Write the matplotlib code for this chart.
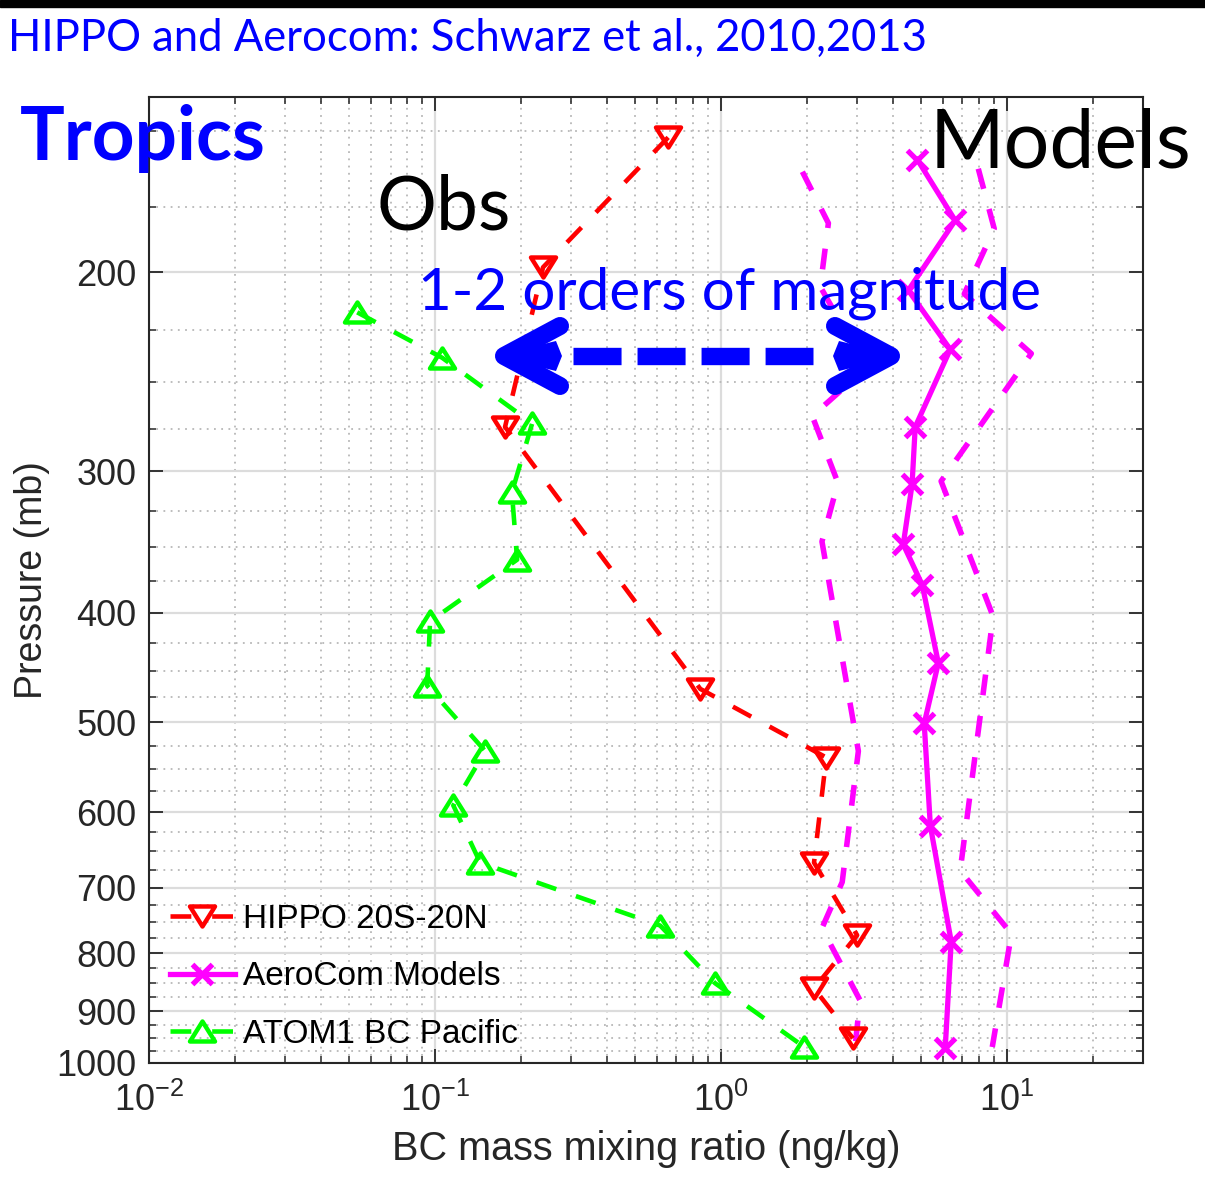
import matplotlib
matplotlib.use("Agg")
import matplotlib.pyplot as plt
from matplotlib.patches import Rectangle, Polygon
from matplotlib.path import Path
from matplotlib.ticker import FixedLocator, LogLocator, NullFormatter, FixedFormatter

# ---- data -------------------------------------------------------------
# HIPPO 20S-20N (BC ng/kg vs pressure mb)
hippo_bc = [0.655, 0.239, 0.176, 0.848, 2.34, 2.12, 3.00, 2.12, 2.90]
hippo_p = [152, 198, 274, 467, 537, 665, 771, 859, 951]

# ATOM1 BC Pacific
atom_bc = [0.0535, 0.106, 0.219, 0.186, 0.194, 0.0962, 0.094, 0.150,
           0.116, 0.144, 0.614, 0.955, 1.96]
atom_p = [217, 238, 272, 313, 359, 407, 464, 530, 592, 665, 756, 850, 968]

# AeroCom model mean
model_bc = [4.87, 6.61, 4.53, 6.35, 4.79, 4.67, 4.35, 5.07, 5.77, 5.15,
            5.41, 6.40, 6.10]
model_p = [159, 180, 207.5, 234, 274, 308, 348, 378, 443, 501, 617, 781, 970]

# AeroCom model spread (lower / upper envelope)
model_low_bc = [1.93, 2.38, 2.23, 3.23, 2.09, 2.57, 2.26, 3.03, 2.66, 2.26,
                3.07, 2.95]
model_low_p = [163, 181, 206, 243, 268, 307, 346, 530, 692, 760, 880, 968]
model_high_bc = [7.96, 9.05, 7.11, 12.2, 5.90, 8.97, 6.88, 10.4, 8.91]
model_high_p = [162, 183, 209, 236, 306, 403, 676, 769, 968]

legend_labels = ["HIPPO 20S-20N", "AeroCom Models", "ATOM1 BC Pacific"]
y_ticks = [200, 300, 400, 500, 600, 700, 800, 900, 1000]
y_minor = [p for p in range(150, 1000, 25) if p % 100 != 0]

# ---- style --------------------------------------------------------------
W, H, DPI = 1205, 1190, 100
plt.rcParams["lines.scale_dashes"] = False
plt.rcParams["font.family"] = ["Liberation Sans", "DejaVu Sans"]
plt.rcParams["mathtext.fontset"] = "custom"
plt.rcParams["mathtext.rm"] = "Liberation Sans"
plt.rcParams["mathtext.default"] = "regular"

RED, GREEN, MAGENTA, BLUE = "#FF0000", "#00FF00", "#FF00FF", "#0000FF"
AXC = "#262626"

tri_up = Path([(-1, -0.8), (1, -0.8), (0, 0.8), (-1, -0.8)], closed=True)
tri_down = Path([(-1, 0.8), (1, 0.8), (0, -0.8), (-1, 0.8)], closed=True)
DASH = (15, 15)

fig = plt.figure(figsize=(W / DPI, H / DPI), dpi=DPI)
ax = fig.add_axes([149 / W, 1 - 1063 / H, 994 / W, 966 / H])
ax.set_xscale("log")
ax.set_yscale("log")

ax.plot(model_low_bc, model_low_p, color=MAGENTA, lw=4.0, dashes=DASH)
ax.plot(model_high_bc, model_high_p, color=MAGENTA, lw=4.0, dashes=DASH)
h_hippo, = ax.plot(hippo_bc, hippo_p, color=RED, lw=3.3, dashes=DASH,
                   marker=tri_down, ms=18, mfc="none", mew=3.2)
h_model, = ax.plot(model_bc, model_p, color=MAGENTA, lw=3.8,
                   marker="x", ms=15, mew=3.8)
h_atom, = ax.plot(atom_bc, atom_p, color=GREEN, lw=3.3, dashes=DASH,
                  marker=tri_up, ms=18, mfc="none", mew=3.2)

ax.set_xlim(0.01, 30)
ax.set_ylim(140, 1000)
ax.invert_yaxis()

ax.xaxis.set_major_locator(FixedLocator([0.01, 0.1, 1, 10]))
ax.xaxis.set_minor_locator(LogLocator(base=10, subs=range(2, 10)))
ax.xaxis.set_minor_formatter(NullFormatter())
ax.yaxis.set_major_locator(FixedLocator(y_ticks))
ax.yaxis.set_major_formatter(FixedFormatter([str(v) for v in y_ticks]))
ax.yaxis.set_minor_locator(FixedLocator(y_minor))
ax.yaxis.set_minor_formatter(NullFormatter())

ax.tick_params(which="both", direction="in", top=True, right=True,
               color=AXC, labelcolor=AXC, labelsize=26)
ax.tick_params(which="major", length=10, width=1.3)
ax.tick_params(which="minor", length=5, width=1.1)
ax.tick_params(axis="x", pad=14)
ax.tick_params(axis="y", pad=9)
for s in ax.spines.values():
    s.set_color(AXC)
    s.set_linewidth(1.5)

ax.set_axisbelow(True)
ax.grid(which="major", color="#dcdcdc", lw=1.6, ls="-")
ax.grid(which="minor", color="#b8b8b8", lw=1.3, ls=(0, (1.3, 3.9)))

ax.set_xlabel("BC mass mixing ratio (ng/kg)", fontsize=28.5, color=AXC)
ax.set_ylabel("Pressure (mb)", fontsize=27, color=AXC)
ax.xaxis.set_label_coords(0.5, -0.069)
ax.yaxis.set_label_coords(-0.0996, 0.5)

ax.legend([h_hippo, h_model, h_atom], legend_labels, loc="lower left",
          bbox_to_anchor=(0.0211, 0.0135), frameon=False, fontsize=24,
          handlelength=1.95, handletextpad=0.24, labelspacing=0.8,
          borderpad=0, borderaxespad=0)

# ---- annotation layer (pixel coordinates) ------------------------------
ov = fig.add_axes([0, 0, 1, 1])
ov.set_xlim(0, W)
ov.set_ylim(H, 0)
ov.axis("off")
ov.patch.set_visible(False)

ov.add_patch(Rectangle((0, 0), W, 7, color="black"))
ov.text(8, 51, "HIPPO and Aerocom: Schwarz et al., 2010,2013",
        family="Lato", fontsize=31.4, color=BLUE, va="baseline")
ov.text(20, 160, "Tropics", family="Lato", fontweight="bold",
        fontsize=53.7, color=BLUE, va="baseline")
ov.text(377, 230, "Obs", family="Lato", fontsize=54, color="black",
        va="baseline")
ov.text(930, 168, "Models", family="Lato", fontsize=58, color="black",
        va="baseline")
ov.text(418, 310, "1-2 orders of magnitude", family="Lato", fontsize=42,
        color=BLUE, va="baseline")

# double-headed dashed arrow
yc = 356
ov.plot([573, 813], [yc, yc], color=BLUE, lw=12.5, dashes=(34.6, 11.5),
        solid_capstyle="butt")
for tip, back in ((497, 560), (898, 835)):
    d = 1 if back > tip else -1
    ov.plot([back, tip + d * 7, back], [yc - 30, yc, yc + 30],
            color=BLUE, lw=13, solid_capstyle="round",
            solid_joinstyle="round")
    ov.add_patch(Polygon([(tip - d * 2, yc), (back - d * 4, yc - 15),
                          (back + d * 2, yc), (back - d * 4, yc + 15)],
                         closed=True, color=BLUE, lw=0))

fig.savefig("out.png", dpi=DPI)
